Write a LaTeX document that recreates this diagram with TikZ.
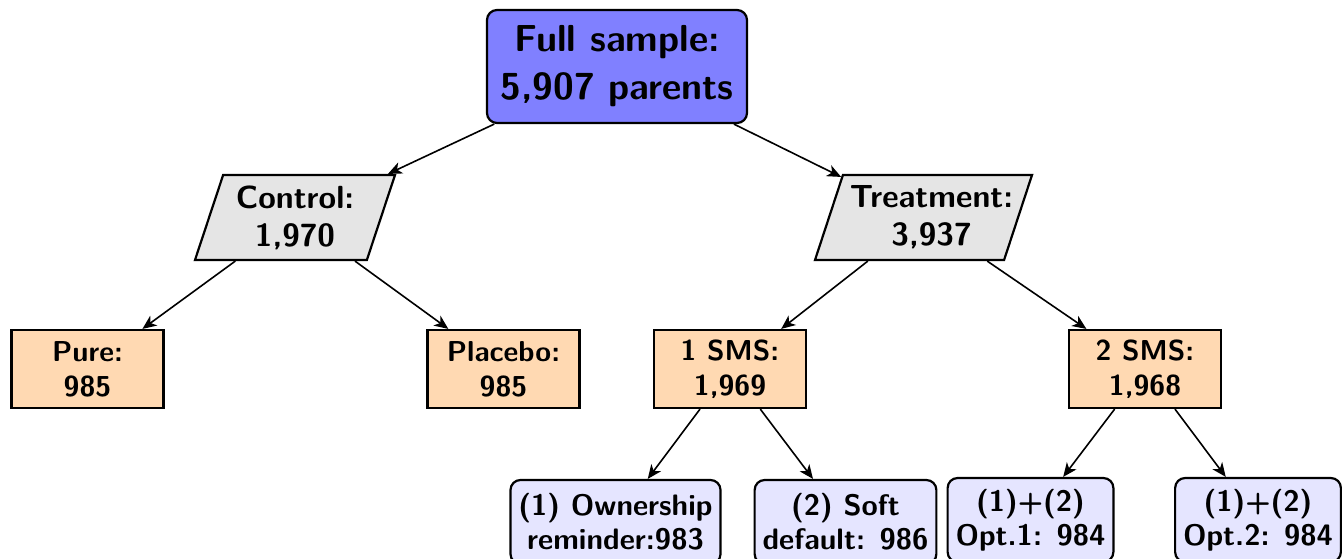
\documentclass[tikz,border=0pt]{standalone}
\usepackage{fontspec}
\newfontfamily\sfbx{lmsans10-bold}[Extension=.otf]
\usetikzlibrary{shapes.geometric,arrows.meta}
\tikzset{
  base/.style={draw=black, line width=1.1pt, align=center},
  topbox/.style={base, rounded corners=5pt, fill=blue!50, minimum width=130pt, minimum height=56.5pt,
    inner xsep=2pt, font=\sfbx\fontsize{18.8}{24}\selectfont},
  midbox/.style={base, trapezium, trapezium left angle=70, trapezium right angle=110,
    trapezium stretches body, fill=gray!20, minimum height=42.5pt, inner xsep=-2pt,
    font=\sfbx\fontsize{16}{19}\selectfont},
  lowbox/.style={base, rectangle, fill=orange!30, minimum width=76pt, minimum height=39pt,
    font=\sfbx\fontsize{14.4}{17.5}\selectfont},
  leafbox/.style={base, rounded corners=5pt, fill=blue!10, minimum height=42pt, inner xsep=4pt,
    font=\sfbx\fontsize{14.8}{17}\selectfont},
  link/.style={line width=0.8pt, -{Stealth[length=7pt,width=6pt,inset=2pt]}}
}
\newcommand{\shiftline}[1]{\hspace*{4pt}#1\hspace*{-4pt}}
\begin{document}
\begin{tikzpicture}[x=0.5pt,y=-0.5pt]
\clip (0,0) rectangle (1342,558);
\useasboundingbox (0,0) rectangle (1342,558);
\node[topbox] (full) at (617,66.5) {Full sample:\\5,907 parents};
\node[midbox, minimum width=100pt] (control) at (295,217.5) {Control:\\1,970};
\node[midbox, minimum width=108.5pt] (treat) at (923.5,217.5) {\shiftline{Treatment:}\\\shiftline{3,937}};
\node[lowbox] (pure) at (87.5,369) {Pure:\\985};
\node[lowbox] (placebo) at (503.5,369) {Placebo:\\985};
\node[lowbox] (sms1) at (730,369) {1 SMS:\\1,969};
\node[lowbox] (sms2) at (1145,369) {2 SMS:\\1,968};
\node[leafbox] (own) at (615.5,522) {(1) Ownership\\reminder:983};
\node[leafbox] (soft) at (845.5,522) {(2) Soft\\default: 986};
\node[leafbox] (opt1) at (1030.5,520) {(1)+(2)\\Opt.1: 984};
\node[leafbox] (opt2) at (1258,520) {(1)+(2)\\Opt.2: 984};
\draw[link] (full) -- (control);
\draw[link] (full) -- (treat);
\draw[link] (control) -- (pure);
\draw[link] (control) -- (placebo);
\draw[link] (treat) -- (sms1);
\draw[link] (treat) -- (sms2);
\draw[link] (sms1) -- (own);
\draw[link] (sms1) -- (soft);
\draw[link] (sms2) -- (opt1);
\draw[link] (sms2) -- (opt2);
\end{tikzpicture}
\end{document}
